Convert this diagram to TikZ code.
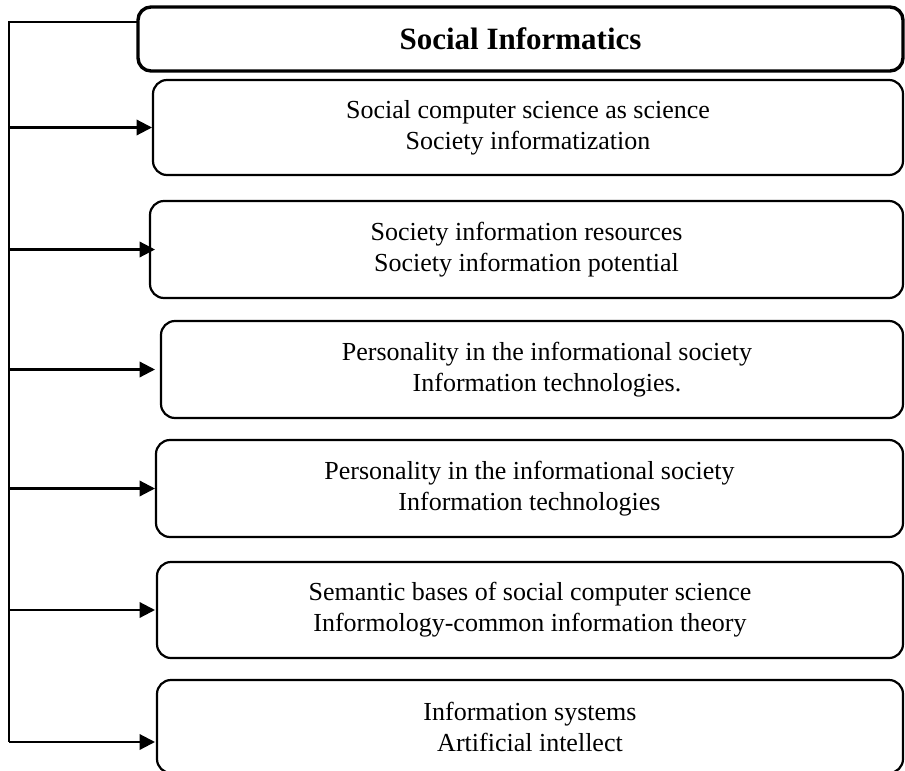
\documentclass[tikz,border=0pt]{standalone}
\usepackage{fontspec}
\setmainfont{Liberation Serif}
\usetikzlibrary{arrows.meta}
\begin{document}
\begin{tikzpicture}[x=1pt,y=-1pt,
  box/.style={draw, line width=2.2pt, rounded corners=14pt, outer sep=0pt, inner sep=0pt,
    align=center, font=\fontsize{26}{31}\selectfont},
  titlebox/.style={draw, line width=3.4pt, rounded corners=13pt, outer sep=0pt, inner sep=0pt,
    font=\fontsize{31}{37}\selectfont\bfseries},
  conn/.style={line width=2.2pt},
  arr/.style={line width=2.2pt, -{Triangle[length=15.5pt,width=15.5pt]}}]
\useasboundingbox (0,0) rectangle (905,771);
% boxes
\node[titlebox, minimum width=765pt, minimum height=64pt] (title) at (520.5,39) {Social Informatics};
\node[box, minimum width=750pt, minimum height=95pt] (b1) at (528,127.5)
  {Social computer science as science\\Society informatization};
\node[box, minimum width=753pt, minimum height=97pt] (b2) at (526.5,249.5)
  {Society information resources\\Society information potential};
\node[box, minimum width=742pt, minimum height=97pt] (b3) at (532,369.5) {};
\node[font=\fontsize{26}{31}\selectfont, align=center] (t3) at (547,369.5)
  {Personality in the informational society\\Information technologies.};
\node[box, minimum width=747pt, minimum height=97pt] (b4) at (529.5,488.5)
  {Personality in the informational society\\Information technologies};
\node[box, minimum width=746pt, minimum height=96pt] (b5) at (530,610)
  {Semantic bases of social computer science\\Informology-common information theory};
\node[box, minimum width=746pt, minimum height=93pt] (b6) at (530,726.5)
  {Information systems\\Artificial intellect};
% trunk
\coordinate (c0) at (9,22);
\coordinate (c6) at (9,742);
\draw[conn] (c0 -| title.west) -- (c0) -- (c6);
% arrows
\draw[arr, shorten >=1pt] (c0 |- b1.west) -- (b1.west);
\draw[arr, shorten >=-5pt] (c0 |- b2.west) -- (b2.west);
\draw[arr, shorten >=6pt] (c0 |- b3.west) -- (b3.west);
\draw[arr, shorten >=1pt] (c0 |- b4.west) -- (b4.west);
\draw[arr, shorten >=2pt] (c0 |- b5.west) -- (b5.west);
\draw[arr, shorten >=2pt] (c6) -- (c6 -| b6.west);
\end{tikzpicture}
\end{document}
